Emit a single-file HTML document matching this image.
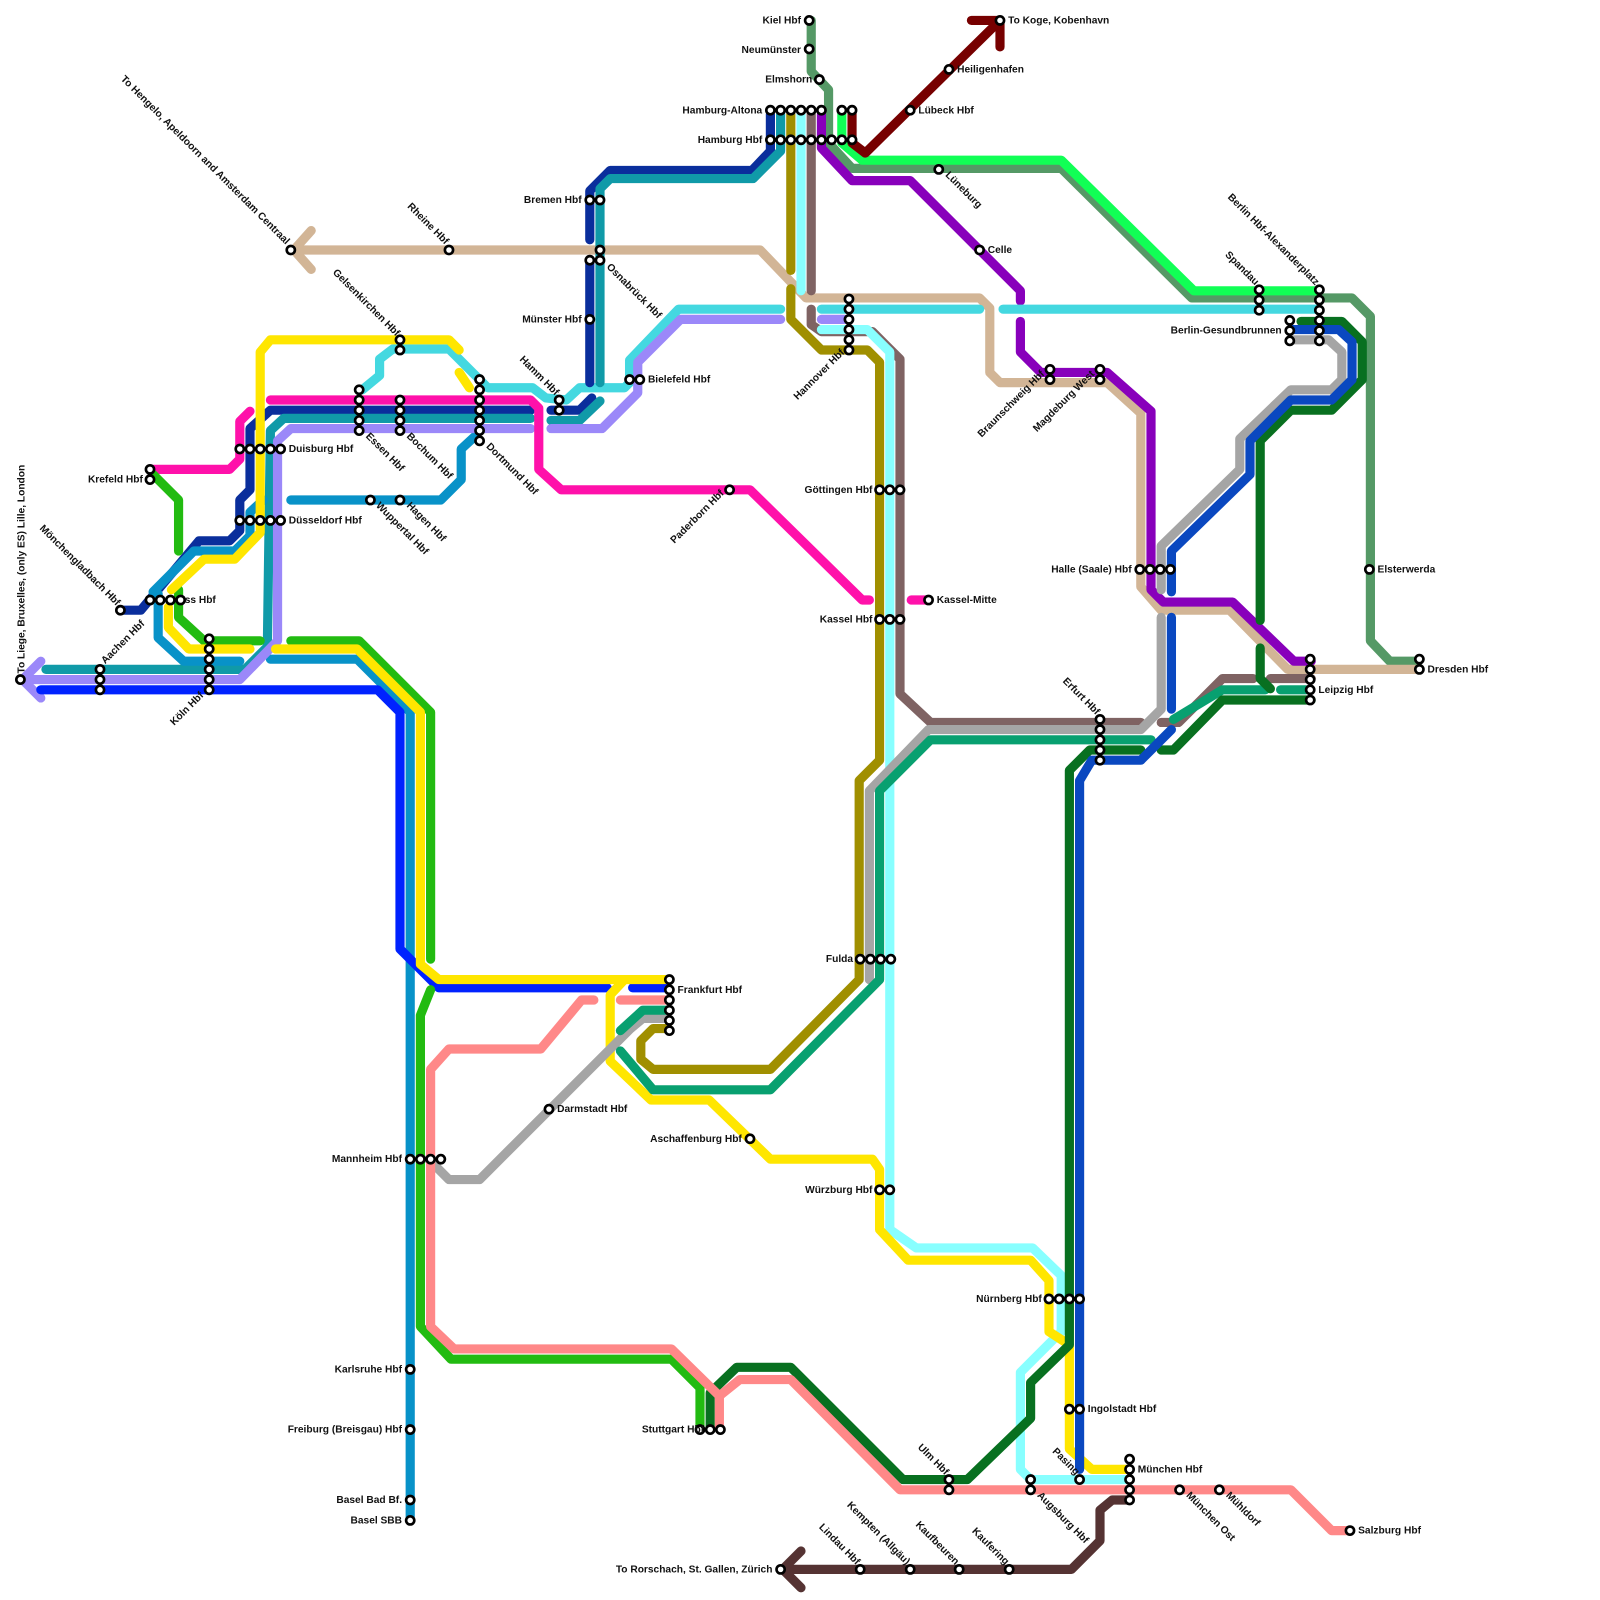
<!DOCTYPE html>
<html><head><meta charset="utf-8"><style>
html,body{margin:0;padding:0;background:#fff;}
svg{display:block}
text{font-family:"Liberation Sans",sans-serif;font-size:10px;font-weight:bold;fill:#111}
.l{fill:none;stroke-width:9;stroke-linejoin:round;stroke-linecap:round}
.s{fill:#fff;stroke:#000;stroke-width:2.6}
</style></head><body>
<svg width="1600" height="1600" viewBox="0 0 1600 1600" xmlns="http://www.w3.org/2000/svg">
<g transform="scale(1.0204)">
<polyline class="l" stroke="#559966" points="795,20 795,70 812,88 812,140 835,165 1040,165 1168,292 1325,292 1343,310 1343,628 1362,648 1390,648"/>
<polyline class="l" stroke="#11ff55" points="825,108 825,140 845,157 1040,157 1170,285 1290,285"/>
<polyline class="l" stroke="#770000" points="835,108 835,140 848,150 980,20"/>
<polyline class="l" stroke="#770000" points="952,20 980,20 980,46"/>
<polyline class="l" stroke="#d2b596" points="290,245 745,245 790,292 960,292 970,302 970,365 980,375 1085,375 1118,405 1118,575 1138,598 1205,598 1262,656 1390,656"/>
<polyline class="l" stroke="#d2b596" points="305,226 288,245 305,264"/>
<polyline class="l" stroke="#8800bb" points="805,112 805,145 835,177 892,177 1000,285 1000,295"/>
<polyline class="l" stroke="#8800bb" points="1000,315 1000,345 1020,365 1085,365 1128,403 1128,578 1140,590 1208,590 1268,648 1285,648"/>
<polyline class="l" stroke="#7f6363" points="795,112 795,285"/>
<polyline class="l" stroke="#7f6363" points="795,303 795,318 805,325 855,325 882,352 882,680 912,708 1118,708"/>
<polyline class="l" stroke="#7f6363" points="1138,708 1155,708 1198,665 1228,665"/>
<polyline class="l" stroke="#7f6363" points="1245,665 1285,665"/>
<polyline class="l" stroke="#a08f00" points="775,112 775,265"/>
<polyline class="l" stroke="#a08f00" points="775,283 775,313 805,343 850,343 862,355 862,745 842,765 842,960 755,1048 640,1048 628,1038 628,1020 640,1008 655,1008"/>
<polyline class="l" stroke="#88ffff" points="785,112 785,285"/>
<polyline class="l" stroke="#88ffff" points="805,323 850,323 872,345 872,1205 898,1223 1012,1223 1040,1250 1040,1305 1020,1325 1000,1345 1000,1440 1010,1450 1105,1450"/>
<polyline class="l" stroke="#44d8e0" points="355,382 372,368 372,352 385,342 440,342 478,380 522,380 535,390 555,392 568,380 612,380 617,375 617,353 665,303 765,303"/>
<polyline class="l" stroke="#44d8e0" points="805,303 960,303"/>
<polyline class="l" stroke="#44d8e0" points="983,303 1290,303"/>
<polyline class="l" stroke="#0a2e9c" points="755,112 755,148 737,167 598,167 578,187 578,235"/>
<polyline class="l" stroke="#0a2e9c" points="578,255 578,375"/>
<polyline class="l" stroke="#0a2e9c" points="540,402 568,402 580,390"/>
<polyline class="l" stroke="#0a2e9c" points="118,598 138,598 195,530 225,530 235,520 235,490 245,480 245,420 265,402 520,402"/>
<polyline class="l" stroke="#109aa8" points="765,112 765,148 738,175 598,175 588,185 588,375"/>
<polyline class="l" stroke="#109aa8" points="540,412 568,412 588,393"/>
<polyline class="l" stroke="#109aa8" points="45,656 240,656 262,634 265,422 278,410 520,410"/>
<polyline class="l" stroke="#0892c8" points="155,582 155,625 180,648 235,648"/>
<polyline class="l" stroke="#0892c8" points="150,580 190,540 230,540 245,525 245,502 258,490"/>
<polyline class="l" stroke="#0892c8" points="265,646 350,646 402,698 402,1490"/>
<polyline class="l" stroke="#0892c8" points="285,490 432,490 452,470 452,440 465,428"/>
<polyline class="l" stroke="#9b88f9" points="28,666 235,666 272,628 272,432 285,420 520,420"/>
<polyline class="l" stroke="#9b88f9" points="40,648 22,666 40,684"/>
<polyline class="l" stroke="#9b88f9" points="540,420 590,420 625,385 625,355 667,313 765,313"/>
<polyline class="l" stroke="#9b88f9" points="805,313 828,313"/>
<polyline class="l" stroke="#0022ff" points="40,676 370,676 392,698 392,930 430,968 595,968"/>
<polyline class="l" stroke="#0022ff" points="620,968 652,968"/>
<polyline class="l" stroke="#ff11aa" points="150,460 225,460 235,450 235,413 245,403"/>
<polyline class="l" stroke="#ff11aa" points="265,392 520,392 528,400 528,460 550,480 735,480 845,588 852,588"/>
<polyline class="l" stroke="#ff11aa" points="893,588 910,588"/>
<polyline class="l" stroke="#22bb11" points="150,465 175,490 175,540"/>
<polyline class="l" stroke="#22bb11" points="175,578 175,605 200,628 255,628"/>
<polyline class="l" stroke="#22bb11" points="285,628 352,628 422,698 422,940"/>
<polyline class="l" stroke="#22bb11" points="422,970 412,995 412,1300 442,1332 658,1332 686,1360 686,1400"/>
<polyline class="l" stroke="#ffe600" points="165,595 165,615 185,636 245,636"/>
<polyline class="l" stroke="#ffe600" points="270,636 350,636 412,698 412,945 430,960 655,960"/>
<polyline class="l" stroke="#ffe600" points="168,578 200,548 230,548 255,522 255,345 265,333 440,333 450,343"/>
<polyline class="l" stroke="#ffe600" points="450,365 460,380"/>
<polyline class="l" stroke="#ffe600" points="612,960 598,975 598,1040 638,1078 695,1078 755,1136 855,1136 862,1146 862,1205 890,1235 1010,1235 1028,1255 1028,1305 1048,1318 1048,1420 1070,1440 1105,1440"/>
<polyline class="l" stroke="#a5a5a5" points="420,1136 440,1156 470,1156 618,1008 630,998 655,998"/>
<polyline class="l" stroke="#a5a5a5" points="852,960 852,775 910,715 1118,715 1138,695 1138,605"/>
<polyline class="l" stroke="#a5a5a5" points="1138,578 1138,535 1215,460 1215,430 1265,382 1305,382 1315,372 1315,345 1302,333 1265,333"/>
<polyline class="l" stroke="#08a070" points="608,1010 630,990 655,990"/>
<polyline class="l" stroke="#08a070" points="608,1030 640,1068 755,1068 862,960 862,775 912,725 1128,725"/>
<polyline class="l" stroke="#08a070" points="1150,705 1198,676 1240,676"/>
<polyline class="l" stroke="#08a070" points="1255,676 1280,676"/>
<polyline class="l" stroke="#087020" points="696,1400 696,1365 722,1340 775,1340 885,1450 948,1450 1010,1390 1010,1355 1048,1318 1048,755 1068,735 1118,735"/>
<polyline class="l" stroke="#087020" points="1138,735 1150,735 1198,686 1285,686"/>
<polyline class="l" stroke="#087020" points="1235,608 1235,432 1265,402 1305,402 1335,372 1335,335 1315,315 1275,315"/>
<polyline class="l" stroke="#087020" points="1235,635 1235,665 1245,675"/>
<polyline class="l" stroke="#0a48c0" points="1058,1440 1058,765 1070,745 1118,745 1148,715"/>
<polyline class="l" stroke="#0a48c0" points="1148,695 1148,605"/>
<polyline class="l" stroke="#0a48c0" points="1148,580 1148,540 1225,465 1225,432 1265,392 1305,392 1325,372 1325,335 1312,323 1265,323"/>
<polyline class="l" stroke="#ff8888" points="582,980 570,980 530,1028 440,1028 422,1048 422,1300 445,1322 658,1322 705,1368 705,1400"/>
<polyline class="l" stroke="#ff8888" points="705,1368 725,1352 775,1352 882,1460 1265,1460 1305,1500 1323,1500"/>
<polyline class="l" stroke="#ff8888" points="608,980 655,980"/>
<polyline class="l" stroke="#553333" points="770,1538 1050,1538 1078,1510 1078,1480 1090,1470 1105,1470"/>
<polyline class="l" stroke="#553333" points="785,1520 767,1538 785,1556"/>

<g class="s">
<circle cx="793" cy="20" r="4"/><circle cx="793" cy="48" r="4"/><circle cx="803" cy="78" r="4"/>
<circle cx="755" cy="108" r="4"/><circle cx="765" cy="108" r="4"/><circle cx="775" cy="108" r="4"/><circle cx="785" cy="108" r="4"/><circle cx="795" cy="108" r="4"/><circle cx="805" cy="108" r="4"/><circle cx="825" cy="108" r="4"/><circle cx="835" cy="108" r="4"/>
<circle cx="755" cy="137" r="4"/><circle cx="765" cy="137" r="4"/><circle cx="775" cy="137" r="4"/><circle cx="785" cy="137" r="4"/><circle cx="795" cy="137" r="4"/><circle cx="805" cy="137" r="4"/><circle cx="815" cy="137" r="4"/><circle cx="825" cy="137" r="4"/><circle cx="835" cy="137" r="4"/>
<circle cx="892" cy="108" r="4"/><circle cx="930" cy="68" r="4"/><circle cx="980" cy="20" r="4"/><circle cx="920" cy="166" r="4"/><circle cx="960" cy="245" r="4"/>
<circle cx="578" cy="196" r="4"/><circle cx="588" cy="196" r="4"/><circle cx="578" cy="255" r="4"/><circle cx="588" cy="245" r="4"/><circle cx="588" cy="255" r="4"/>
<circle cx="440" cy="245" r="4"/><circle cx="285" cy="245" r="4"/><circle cx="578" cy="313" r="4"/>
<circle cx="548" cy="392" r="4"/><circle cx="548" cy="402" r="4"/><circle cx="617" cy="372" r="4"/><circle cx="627" cy="372" r="4"/>
<circle cx="832" cy="293" r="4"/><circle cx="832" cy="303" r="4"/><circle cx="832" cy="313" r="4"/><circle cx="832" cy="323" r="4"/><circle cx="832" cy="333" r="4"/><circle cx="832" cy="343" r="4"/>
<circle cx="392" cy="333" r="4"/><circle cx="392" cy="343" r="4"/>
<circle cx="352" cy="382" r="4"/><circle cx="352" cy="392" r="4"/><circle cx="352" cy="402" r="4"/><circle cx="352" cy="412" r="4"/><circle cx="352" cy="422" r="4"/>
<circle cx="392" cy="392" r="4"/><circle cx="392" cy="402" r="4"/><circle cx="392" cy="412" r="4"/><circle cx="392" cy="422" r="4"/>
<circle cx="470" cy="372" r="4"/><circle cx="470" cy="382" r="4"/><circle cx="470" cy="392" r="4"/><circle cx="470" cy="402" r="4"/><circle cx="470" cy="412" r="4"/><circle cx="470" cy="422" r="4"/><circle cx="470" cy="432" r="4"/>
<circle cx="235" cy="440" r="4"/><circle cx="245" cy="440" r="4"/><circle cx="255" cy="440" r="4"/><circle cx="265" cy="440" r="4"/><circle cx="275" cy="440" r="4"/>
<circle cx="235" cy="510" r="4"/><circle cx="245" cy="510" r="4"/><circle cx="255" cy="510" r="4"/><circle cx="265" cy="510" r="4"/><circle cx="275" cy="510" r="4"/>
<circle cx="147" cy="460" r="4"/><circle cx="147" cy="470" r="4"/><circle cx="118" cy="598" r="4"/>
<circle cx="147" cy="588" r="4"/><circle cx="157" cy="588" r="4"/><circle cx="167" cy="588" r="4"/><circle cx="177" cy="588" r="4"/>
<circle cx="98" cy="656" r="4"/><circle cx="98" cy="666" r="4"/><circle cx="98" cy="676" r="4"/><circle cx="20" cy="666" r="4"/>
<circle cx="205" cy="626" r="4"/><circle cx="205" cy="636" r="4"/><circle cx="205" cy="646" r="4"/><circle cx="205" cy="656" r="4"/><circle cx="205" cy="666" r="4"/><circle cx="205" cy="676" r="4"/>
<circle cx="363" cy="490" r="4"/><circle cx="392" cy="490" r="4"/><circle cx="715" cy="480" r="4"/>
<circle cx="862" cy="480" r="4"/><circle cx="872" cy="480" r="4"/><circle cx="882" cy="480" r="4"/>
<circle cx="862" cy="607" r="4"/><circle cx="872" cy="607" r="4"/><circle cx="882" cy="607" r="4"/><circle cx="910" cy="588" r="4"/>
<circle cx="843" cy="940" r="4"/><circle cx="853" cy="940" r="4"/><circle cx="863" cy="940" r="4"/><circle cx="873" cy="940" r="4"/>
<circle cx="656" cy="960" r="4"/><circle cx="656" cy="970" r="4"/><circle cx="656" cy="980" r="4"/><circle cx="656" cy="990" r="4"/><circle cx="656" cy="1000" r="4"/><circle cx="656" cy="1010" r="4"/>
<circle cx="538" cy="1087" r="4"/><circle cx="735" cy="1116" r="4"/>
<circle cx="402" cy="1136" r="4"/><circle cx="412" cy="1136" r="4"/><circle cx="422" cy="1136" r="4"/><circle cx="432" cy="1136" r="4"/>
<circle cx="862" cy="1166" r="4"/><circle cx="872" cy="1166" r="4"/>
<circle cx="402" cy="1342" r="4"/><circle cx="402" cy="1401" r="4"/><circle cx="402" cy="1470" r="4"/><circle cx="402" cy="1490" r="4"/>
<circle cx="686" cy="1401" r="4"/><circle cx="696" cy="1401" r="4"/><circle cx="706" cy="1401" r="4"/>
<circle cx="1028" cy="1273" r="4"/><circle cx="1038" cy="1273" r="4"/><circle cx="1048" cy="1273" r="4"/><circle cx="1058" cy="1273" r="4"/>
<circle cx="1048" cy="1381" r="4"/><circle cx="1058" cy="1381" r="4"/>
<circle cx="1107" cy="1430" r="4"/><circle cx="1107" cy="1440" r="4"/><circle cx="1107" cy="1450" r="4"/><circle cx="1107" cy="1460" r="4"/><circle cx="1107" cy="1470" r="4"/>
<circle cx="1058" cy="1450" r="4"/><circle cx="1010" cy="1450" r="4"/><circle cx="1010" cy="1460" r="4"/>
<circle cx="930" cy="1450" r="4"/><circle cx="930" cy="1460" r="4"/>
<circle cx="1156" cy="1460" r="4"/><circle cx="1195" cy="1460" r="4"/><circle cx="1323" cy="1500" r="4"/>
<circle cx="892" cy="1538" r="4"/><circle cx="843" cy="1538" r="4"/><circle cx="940" cy="1538" r="4"/><circle cx="989" cy="1538" r="4"/><circle cx="765" cy="1538" r="4"/>
<circle cx="1078" cy="705" r="4"/><circle cx="1078" cy="715" r="4"/><circle cx="1078" cy="725" r="4"/><circle cx="1078" cy="735" r="4"/><circle cx="1078" cy="745" r="4"/>
<circle cx="1117" cy="558" r="4"/><circle cx="1127" cy="558" r="4"/><circle cx="1137" cy="558" r="4"/><circle cx="1147" cy="558" r="4"/>
<circle cx="1284" cy="646" r="4"/><circle cx="1284" cy="656" r="4"/><circle cx="1284" cy="666" r="4"/><circle cx="1284" cy="676" r="4"/><circle cx="1284" cy="686" r="4"/>
<circle cx="1391" cy="646" r="4"/><circle cx="1391" cy="656" r="4"/><circle cx="1342" cy="558" r="4"/>
<circle cx="1293" cy="284" r="4"/><circle cx="1293" cy="294" r="4"/><circle cx="1293" cy="304" r="4"/><circle cx="1293" cy="314" r="4"/><circle cx="1293" cy="324" r="4"/><circle cx="1293" cy="334" r="4"/>
<circle cx="1234" cy="284" r="4"/><circle cx="1234" cy="294" r="4"/><circle cx="1234" cy="304" r="4"/>
<circle cx="1264" cy="314" r="4"/><circle cx="1264" cy="324" r="4"/><circle cx="1264" cy="334" r="4"/>
<circle cx="1029" cy="362" r="4"/><circle cx="1029" cy="372" r="4"/><circle cx="1078" cy="362" r="4"/><circle cx="1078" cy="372" r="4"/>
</g>

<g>
<text x="785" y="23" text-anchor="end">Kiel Hbf</text>
<text x="785" y="52" text-anchor="end">Neumünster</text>
<text x="796" y="81" text-anchor="end">Elmshorn</text>
<text x="747" y="111" text-anchor="end">Hamburg-Altona</text>
<text x="747" y="140" text-anchor="end">Hamburg Hbf</text>
<text x="900" y="111">Lübeck Hbf</text>
<text x="938" y="71">Heiligenhafen</text>
<text x="988" y="23">To Koge, Kobenhavn</text>
<text x="926" y="172" transform="rotate(45 926 172)">Lüneburg</text>
<text x="968" y="248">Celle</text>
<text x="570" y="199" text-anchor="end">Bremen Hbf</text>
<text x="594" y="262" transform="rotate(45 594 262)">Osnabrück Hbf</text>
<text x="570" y="316" text-anchor="end">Münster Hbf</text>
<text x="635" y="375">Bielefeld Hbf</text>
<text x="436" y="240" text-anchor="end" transform="rotate(45 436 240)">Rheine Hbf</text>
<text x="280" y="240" text-anchor="end" transform="rotate(45 280 240)">To Hengelo, Apeldoorn and Amsterdam Centraal</text>
<text x="544" y="388" text-anchor="end" transform="rotate(45 544 388)">Hamm Hbf</text>
<text x="828" y="346" text-anchor="end" transform="rotate(-45 828 346)">Hannover Hbf</text>
<text x="388" y="330" text-anchor="end" transform="rotate(45 388 330)">Gelsenkirchen Hbf</text>
<text x="358" y="428" transform="rotate(45 358 428)">Essen Hbf</text>
<text x="398" y="428" transform="rotate(45 398 428)">Bochum Hbf</text>
<text x="476" y="438" transform="rotate(45 476 438)">Dortmund Hbf</text>
<text x="283" y="443">Duisburg Hbf</text>
<text x="283" y="513">Düsseldorf Hbf</text>
<text x="140" y="473" text-anchor="end">Krefeld Hbf</text>
<text x="114" y="594" text-anchor="end" transform="rotate(45 114 594)">Mönchengladbach Hbf</text>
<text x="181" y="591">ss Hbf</text>
<text x="103" y="651" transform="rotate(-45 103 651)">Aachen Hbf</text>
<text x="24" y="660" transform="rotate(-90 24 660)">To Liege, Bruxelles, (only ES) Lille, London</text>
<text x="200" y="682" text-anchor="end" transform="rotate(-45 200 682)">Köln Hbf</text>
<text x="368" y="496" transform="rotate(45 368 496)">Wuppertal Hbf</text>
<text x="398" y="496" transform="rotate(45 398 496)">Hagen Hbf</text>
<text x="710" y="484" text-anchor="end" transform="rotate(-45 710 484)">Paderborn Hbf</text>
<text x="855" y="483" text-anchor="end">Göttingen Hbf</text>
<text x="855" y="610" text-anchor="end">Kassel Hbf</text>
<text x="918" y="591">Kassel-Mitte</text>
<text x="836" y="943" text-anchor="end">Fulda</text>
<text x="664" y="973">Frankfurt Hbf</text>
<text x="546" y="1090">Darmstadt Hbf</text>
<text x="727" y="1119" text-anchor="end">Aschaffenburg Hbf</text>
<text x="394" y="1139" text-anchor="end">Mannheim Hbf</text>
<text x="855" y="1169" text-anchor="end">Würzburg Hbf</text>
<text x="394" y="1345" text-anchor="end">Karlsruhe Hbf</text>
<text x="394" y="1404" text-anchor="end">Freiburg (Breisgau) Hbf</text>
<text x="394" y="1473" text-anchor="end">Basel Bad Bf.</text>
<text x="394" y="1493" text-anchor="end">Basel SBB</text>
<text x="690" y="1404" text-anchor="end">Stuttgart Hbf</text>
<text x="1021" y="1276" text-anchor="end">Nürnberg Hbf</text>
<text x="1066" y="1384">Ingolstadt Hbf</text>
<text x="1115" y="1443">München Hbf</text>
<text x="1054" y="1446" text-anchor="end" transform="rotate(45 1054 1446)">Pasing</text>
<text x="1016" y="1466" transform="rotate(45 1016 1466)">Augsburg Hbf</text>
<text x="926" y="1446" text-anchor="end" transform="rotate(45 926 1446)">Ulm Hbf</text>
<text x="1162" y="1466" transform="rotate(45 1162 1466)">München Ost</text>
<text x="1201" y="1466" transform="rotate(45 1201 1466)">Mühldorf</text>
<text x="1331" y="1503">Salzburg Hbf</text>
<text x="888" y="1534" text-anchor="end" transform="rotate(45 888 1534)">Kempten (Allgäu)</text>
<text x="839" y="1534" text-anchor="end" transform="rotate(45 839 1534)">Lindau Hbf</text>
<text x="936" y="1534" text-anchor="end" transform="rotate(45 936 1534)">Kaufbeuren</text>
<text x="985" y="1534" text-anchor="end" transform="rotate(45 985 1534)">Kaufering</text>
<text x="757" y="1541" text-anchor="end">To Rorschach, St. Gallen, Zürich</text>
<text x="1074" y="701" text-anchor="end" transform="rotate(45 1074 701)">Erfurt Hbf</text>
<text x="1109" y="561" text-anchor="end">Halle (Saale) Hbf</text>
<text x="1292" y="679">Leipzig Hbf</text>
<text x="1399" y="659">Dresden Hbf</text>
<text x="1350" y="561">Elsterwerda</text>
<text x="1289" y="280" text-anchor="end" transform="rotate(45 1289 280)">Berlin Hbf-Alexanderplatz</text>
<text x="1230" y="280" text-anchor="end" transform="rotate(45 1230 280)">Spandau</text>
<text x="1256" y="327" text-anchor="end">Berlin-Gesundbrunnen</text>
<text x="1024" y="367" text-anchor="end" transform="rotate(-45 1024 367)">Braunschweig Hbf</text>
<text x="1073" y="367" text-anchor="end" transform="rotate(-45 1073 367)">Magdeburg West</text>
</g>
</g>
</svg>
</body></html>
